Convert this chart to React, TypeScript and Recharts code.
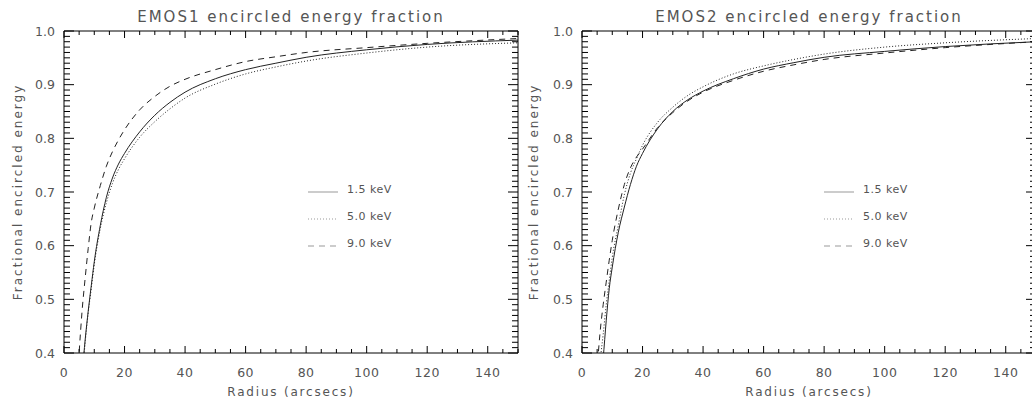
import { LineChart, Line, XAxis, YAxis } from "recharts";

// radius grid (arcsec) shared by every curve
const radius = [4, 5, 6, 7, 8, 9, 10, 12, 14, 16, 18, 20, 25, 30, 35, 40, 50, 60, 70, 80, 100, 120, 150];

// EMOS1 encircled energy fraction
const emos1Kev15 = [0.2, 0.28, 0.36, 0.425, 0.478, 0.525, 0.57, 0.638, 0.69, 0.726, 0.752, 0.772, 0.812, 0.843, 0.867, 0.886, 0.911, 0.928, 0.94, 0.951, 0.965, 0.975, 0.983];
const emos1Kev50 = [0.2, 0.28, 0.355, 0.42, 0.475, 0.52, 0.565, 0.632, 0.68, 0.716, 0.742, 0.762, 0.802, 0.831, 0.855, 0.875, 0.901, 0.92, 0.933, 0.944, 0.959, 0.97, 0.978];
const emos1Kev90 = [0.3, 0.4, 0.48, 0.54, 0.595, 0.643, 0.67, 0.712, 0.748, 0.775, 0.797, 0.816, 0.853, 0.878, 0.897, 0.91, 0.928, 0.943, 0.952, 0.96, 0.969, 0.977, 0.986];

// EMOS2 encircled energy fraction
const emos2Kev15 = [0.2, 0.27, 0.33, 0.39, 0.46, 0.52, 0.56, 0.625, 0.672, 0.714, 0.748, 0.772, 0.818, 0.85, 0.872, 0.888, 0.911, 0.929, 0.941, 0.951, 0.962, 0.971, 0.98];
const emos2Kev50 = [0.24, 0.32, 0.385, 0.435, 0.49, 0.535, 0.578, 0.638, 0.695, 0.735, 0.762, 0.787, 0.83, 0.858, 0.88, 0.896, 0.92, 0.935, 0.947, 0.957, 0.97, 0.978, 0.986];
const emos2Kev90 = [0.28, 0.37, 0.44, 0.49, 0.532, 0.573, 0.61, 0.668, 0.714, 0.745, 0.765, 0.78, 0.82, 0.848, 0.87, 0.886, 0.908, 0.925, 0.937, 0.947, 0.959, 0.969, 0.98];

const energyLabels = ["1.5 keV", "5.0 keV", "9.0 keV"];
const energyDash = ["", "1 2", "6 5"];

const xMajorTicks = [0, 20, 40, 60, 80, 100, 120, 140];
const yMajorTicks = [0.4, 0.5, 0.6, 0.7, 0.8, 0.9, 1.0];

// minor ticks every 5 arcsec and every 0.01 in fraction
const xTicks = Array.from({ length: 31 }, (_, i) => i * 5);
const yTicks = Array.from({ length: 61 }, (_, i) => (40 + i) / 100);

const FONT = "DejaVu Sans";
const TEXT = "#555";

const isMajorX = (v: number) => xMajorTicks.includes(v);
const isMajorY = (v: number) => yMajorTicks.some((t) => Math.abs(t - v) < 1e-6);

function BottomTick({ x, y, payload }: any) {
  const v = payload.value;
  const major = isMajorX(v);
  return (
    <g>
      <line x1={x} x2={x} y1={y} y2={y - (major ? 7 : 4)} stroke="#000" />
      {major && (
        <text x={x} y={y + 24} textAnchor="middle" fontFamily={FONT} fontSize={12.5} fill={TEXT} letterSpacing={0.5}>
          {v}
        </text>
      )}
    </g>
  );
}

function TopTick({ x, y, payload }: any) {
  const major = isMajorX(payload.value);
  return <line x1={x} x2={x} y1={y} y2={y + (major ? 7 : 4)} stroke="#000" />;
}

function LeftTick({ x, y, payload }: any) {
  const v = payload.value;
  const major = isMajorY(v);
  return (
    <g>
      <line x1={x} x2={x + (major ? 10 : 6)} y1={y} y2={y} stroke="#000" />
      {major && (
        <text x={x - 9} y={y + 4.5} textAnchor="end" fontFamily={FONT} fontSize={12.5} fill={TEXT}>
          {v.toFixed(1)}
        </text>
      )}
    </g>
  );
}

function RightTick({ x, y, payload }: any) {
  const major = isMajorY(payload.value);
  return <line x1={x} x2={x - (major ? 10 : 6)} y1={y} y2={y} stroke="#000" />;
}

type PanelProps = {
  title: string;
  series: number[][];
  left: number;
  plotLeft: number;
  plotRight: number;
};

const W = 540;
const H = 403;
const PLOT_TOP = 31;
const PLOT_BOTTOM = 353;

function Panel({ title, series, left, plotLeft, plotRight }: PanelProps) {
  const rows = radius.map((r, i) => {
    const row: Record<string, number> = { r };
    series.forEach((s, k) => (row[`s${k}`] = s[i]));
    return row;
  });
  // every axis takes 1px, so the margins leave that room
  const margin = { top: PLOT_TOP - 1, right: W - plotRight - 1, bottom: H - PLOT_BOTTOM - 1, left: plotLeft - 1 };
  const cx = (plotLeft + plotRight) / 2;
  const cy = (PLOT_TOP + PLOT_BOTTOM) / 2;
  const axisProps = { tickSize: 0, tickMargin: 0, tickLine: false, interval: 0 as const, axisLine: { stroke: "#000" } };

  return (
    <div style={{ position: "absolute", left, top: 0, width: W, height: H }}>
      <LineChart width={W} height={H} data={rows} margin={margin}>
        <XAxis dataKey="r" type="number" domain={[0, 150]} ticks={xTicks} height={1} {...axisProps} tick={<BottomTick />} />
        <XAxis xAxisId="top" orientation="top" dataKey="r" type="number" domain={[0, 150]} ticks={xTicks} height={1}
          {...axisProps} tick={<TopTick />} />
        <YAxis type="number" domain={[0.4, 1.0]} allowDataOverflow ticks={yTicks} width={1} {...axisProps} tick={<LeftTick />} />
        <YAxis yAxisId="right" orientation="right" type="number" domain={[0.4, 1.0]} allowDataOverflow ticks={yTicks} width={1}
          {...axisProps} tick={<RightTick />} />
        {series.map((_, k) => (
          <Line key={k} dataKey={`s${k}`} type="monotone" stroke="#222" strokeWidth={1}
            strokeDasharray={energyDash[k] || undefined} dot={false} isAnimationActive={false} />
        ))}
      </LineChart>
      <svg width={W} height={H} style={{ position: "absolute", left: 0, top: 0, pointerEvents: "none" }}>
        <text x={cx} y={22} textAnchor="middle" fontFamily={FONT} fontSize={15} fill={TEXT} letterSpacing={2}>
          {title}
        </text>
        <text x={cx} y={396} textAnchor="middle" fontFamily={FONT} fontSize={12} fill={TEXT} letterSpacing={1.8}>
          Radius (arcsecs)
        </text>
        <text x={18} y={cy} textAnchor="middle" fontFamily={FONT} fontSize={12} fill={TEXT} letterSpacing={2}
          dominantBaseline="central" transform={`rotate(-90 18 ${cy})`}>
          Fractional encircled energy
        </text>
        {energyLabels.map((label, k) => (
          <g key={label}>
            <line x1={308} x2={338} y1={192 + k * 27} y2={192 + k * 27} stroke="#999" strokeWidth={1}
              strokeDasharray={energyDash[k] || undefined} />
            <text x={347} y={193 + k * 27} fontFamily={FONT} fontSize={11} fill={TEXT} letterSpacing={0.5}>
              {label}
            </text>
          </g>
        ))}
      </svg>
    </div>
  );
}

export default function App() {
  return (
    <div style={{ position: "fixed", left: 0, top: 0, width: 1032, height: 403, overflow: "hidden", background: "#fff" }}>
      <Panel title="EMOS1 encircled energy fraction" series={[emos1Kev15, emos1Kev50, emos1Kev90]} left={0}
        plotLeft={64} plotRight={518} />
      <Panel title="EMOS2 encircled energy fraction" series={[emos2Kev15, emos2Kev50, emos2Kev90]} left={516}
        plotLeft={66} plotRight={520} />
    </div>
  );
}
